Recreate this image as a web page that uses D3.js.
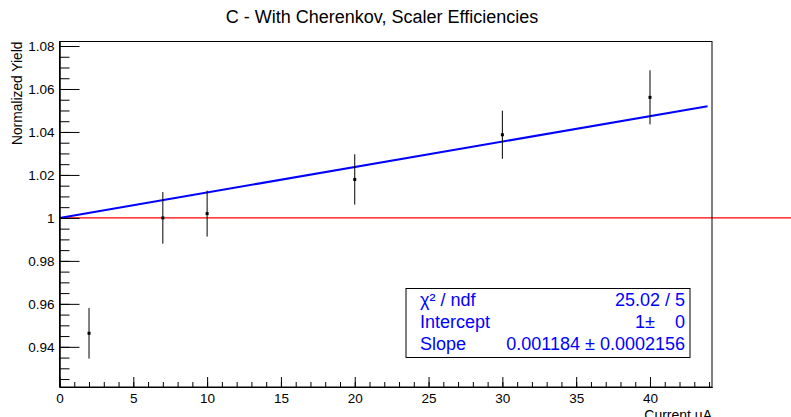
<!DOCTYPE html>
<html>
<head>
<meta charset="utf-8">
<title>C - With Cherenkov, Scaler Efficiencies</title>
<script src="https://d3js.org/d3.v7.min.js"></script>
<style>
  body { margin: 0; background: #fff; }
  text { font-family: "Liberation Sans", Arial, sans-serif; }
</style>
</head>
<body>
<svg width="791" height="417"></svg>
<script>
// measured points (current in uA, normalized yield, error)
var currents = [2, 7, 10, 20, 30, 40];
var yields = [0.9463, 1.0000, 1.0020, 1.0179, 1.0387, 1.0561];
var errors = [0.0118, 0.0120, 0.0107, 0.0117, 0.0112, 0.0126];

// linear fit results
var intercept = 1;
var slope = 0.001184;
var statLabels = ["\u03c7\u00b2 / ndf", "Intercept", "Slope"];
var statValues = ["25.02 / 5", "1\u00b1    0", "0.001184 \u00b1 0.0002156"];

var svg = d3.select("svg"),
    width = +svg.attr("width"),
    height = +svg.attr("height");

var margin = {left: 59.5, right: 79, top: 41.5, bottom: 30};

var x = d3.scaleLinear()
    .domain([0, 44.2])
    .range([margin.left, width - margin.right]);

var y = d3.scaleLinear()
    .domain([0.9213, 1.0821])
    .range([height - margin.bottom, margin.top]);

// title
svg.append("text")
    .attr("x", 382)
    .attr("y", 23)
    .attr("text-anchor", "middle")
    .attr("font-size", "18")
    .attr("fill", "#000")
    .text("C - With Cherenkov, Scaler Efficiencies");

// reference line at 1 (runs past the frame)
svg.append("line")
    .attr("x1", x(0))
    .attr("x2", width)
    .attr("y1", y(1))
    .attr("y2", y(1))
    .attr("stroke", "#ff0000")
    .attr("stroke-width", 1.2);

// fit line
svg.append("line")
    .attr("x1", x(0))
    .attr("x2", x(43.9))
    .attr("y1", y(intercept))
    .attr("y2", y(intercept + slope * 43.9))
    .attr("stroke", "#0000ff")
    .attr("stroke-width", 2);

// axes, ROOT style ticks inside the frame
var xMajor = d3.range(0, 45, 5);
var xMinor = d3.range(0, 45, 1);
var yMajor = d3.range(0.94, 1.0801, 0.02);
var yMinor = d3.range(0.925, 1.0821, 0.005);

var xAxis = d3.axisBottom(x).tickValues(xMajor).tickSize(-10).tickSizeOuter(0).tickFormat(d3.format("d"));
var xAxisMinor = d3.axisBottom(x).tickValues(xMinor).tickSize(-5).tickSizeOuter(0).tickFormat("");
var yAxis = d3.axisLeft(y).tickValues(yMajor).tickSize(-20).tickSizeOuter(0)
    .tickFormat(function(d) { return +d.toFixed(2) == 1 ? "1" : d3.format(".2f")(d); });
var yAxisMinor = d3.axisLeft(y).tickValues(yMinor).tickSize(-10).tickSizeOuter(0).tickFormat("");

var bottomY = y.range()[0], leftX = x.range()[0];
svg.append("g").attr("transform", "translate(0," + bottomY + ")").call(xAxisMinor);
var gx = svg.append("g").attr("transform", "translate(0," + bottomY + ")").call(xAxis);
gx.selectAll("text").attr("font-size", "13.5").attr("y", 16).attr("dy", 0).attr("fill", "#000");

svg.append("g").attr("transform", "translate(" + leftX + ",0)").call(yAxisMinor);
var gy = svg.append("g").attr("transform", "translate(" + leftX + ",0)").call(yAxis);
gy.selectAll("text").attr("font-size", "13.5").attr("x", -5).attr("fill", "#000");

svg.selectAll(".domain").attr("stroke", "#000");
svg.selectAll(".tick line").attr("stroke", "#000");
svg.selectAll("g text").attr("font-family", "'Liberation Sans', Arial, sans-serif");

// frame
svg.append("rect")
    .attr("x", x.range()[0])
    .attr("y", y.range()[1])
    .attr("width", x.range()[1] - x.range()[0])
    .attr("height", y.range()[0] - y.range()[1])
    .attr("fill", "none")
    .attr("stroke", "#000")
    .attr("stroke-width", 1);

// axis titles
svg.append("text")
    .attr("transform", "translate(22," + margin.top + ") rotate(-90)")
    .attr("text-anchor", "end")
    .attr("font-size", "13.8")
    .attr("fill", "#000")
    .text("Normalized Yield");

svg.append("text")
    .attr("x", x.range()[1])
    .attr("y", 420)
    .attr("text-anchor", "end")
    .attr("font-size", "14")
    .attr("fill", "#000")
    .text("Current uA");

// data points with error bars
var pts = svg.append("g").selectAll("g")
    .data(currents.map(function(c, i) { return {x: c, y: yields[i], e: errors[i]}; }))
    .enter().append("g");

pts.append("line")
    .attr("x1", function(d) { return x(d.x); })
    .attr("x2", function(d) { return x(d.x); })
    .attr("y1", function(d) { return y(d.y - d.e); })
    .attr("y2", function(d) { return y(d.y + d.e); })
    .attr("stroke", "#000")
    .attr("stroke-width", 1);

pts.append("rect")
    .attr("x", function(d) { return x(d.x) - 1.5; })
    .attr("y", function(d) { return y(d.y) - 1.5; })
    .attr("width", 3)
    .attr("height", 3)
    .attr("fill", "#000");

// stats box
var box = svg.append("g");
box.append("rect")
    .attr("x", 406)
    .attr("y", 288.5)
    .attr("width", 284)
    .attr("height", 69)
    .attr("fill", "#fff")
    .attr("stroke", "#000")
    .attr("stroke-width", 1);

box.selectAll(".lab")
    .data(statLabels)
    .enter().append("text")
    .attr("class", "lab")
    .attr("x", 420)
    .attr("y", function(d, i) { return 305.5 + i * 22; })
    .attr("font-size", "18")
    .attr("fill", "#0000ff")
    .text(function(d) { return d; });

box.selectAll(".val")
    .data(statValues)
    .enter().append("text")
    .attr("class", "val")
    .attr("x", 685)
    .attr("y", function(d, i) { return 305.5 + i * 22; })
    .attr("text-anchor", "end")
    .attr("font-size", "18")
    .attr("fill", "#0000ff")
    .attr("xml:space", "preserve")
    .style("white-space", "pre")
    .text(function(d) { return d; });
</script>
</body>
</html>
